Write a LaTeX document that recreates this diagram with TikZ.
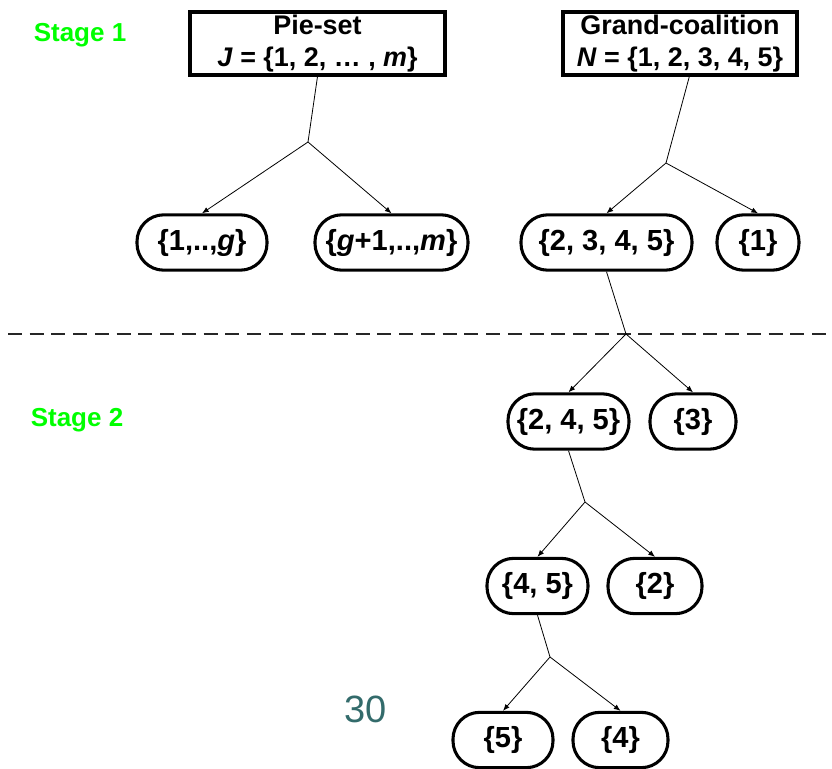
\documentclass[tikz,border=0pt]{standalone}
\usepackage{fontspec}
\setmainfont{Liberation Sans}
\usetikzlibrary{arrows.meta}
\definecolor{stagegreen}{HTML}{00FF00}
\definecolor{pagenum}{HTML}{336B6B}
\begin{document}
\begin{tikzpicture}[x=0.75pt,y=-0.75pt,
  titlebox/.style={draw,line width=2.3pt,rectangle,inner sep=0pt,
    minimum height=47.25pt,align=center,
    font=\fontsize{20.2}{23.5}\selectfont\bfseries},
  setbox/.style={draw,line width=2.3pt,rectangle,rounded corners=20pt,
    inner sep=0pt,minimum height=41.5pt,
    font=\fontsize{21.8}{24}\selectfont\bfseries},
  link/.style={line width=0.6pt},
  branch/.style={line width=0.6pt,-{Latex[length=5pt,width=4pt]}},
  stagelabel/.style={text=stagegreen,font=\fontsize{19.5}{23}\selectfont\bfseries}]
\useasboundingbox (0,0) rectangle (832,768);

% stage labels
\node[stagelabel] (s1) at (80,35) {Stage 1};
\node[stagelabel] (s2) at (77,420) {Stage 2};

% root boxes
\node[titlebox,minimum width=191.25pt] (pie) at (317.5,43.5)
  {Pie-set\\\textit{J} = \{1, 2, … , \textit{m}\}};
\node[titlebox,minimum width=175.5pt] (grand) at (680,43.5)
  {Grand-coalition\\\textit{N} = \{1, 2, 3, 4, 5\}};

% first split of the pie-set and of the grand coalition
\node[setbox,minimum width=97.5pt] (g1) at (202,242.5) {\{1,..,\textit{g}\}};
\node[setbox,minimum width=114.75pt] (g2) at (391.5,242.5) {\{\textit{g}+1,..,\textit{m}\}};
\node[setbox,minimum width=128.25pt] (n2345) at (606.5,242.5) {\{2, 3, 4, 5\}};
\node[setbox,minimum width=61.5pt] (n1) at (758,242.5) {\{1\}};

% later splits
\node[setbox,minimum width=90.75pt] (n245) at (568.5,421.5) {\{2, 4, 5\}};
\node[setbox,minimum width=64.5pt] (n3) at (693,421.5) {\{3\}};
\node[setbox,minimum width=75.75pt] (n45) at (537.5,586) {\{4, 5\}};
\node[setbox,minimum width=70.5pt] (n2) at (655,586) {\{2\}};
\node[setbox,minimum width=75pt] (n5) at (503,740) {\{5\}};
\node[setbox,minimum width=71.25pt] (n4) at (620.5,740) {\{4\}};

% branching points
\coordinate (j1) at (308,142);
\coordinate (j2) at (666,163);
\coordinate (j3) at (626,334);
\coordinate (j4) at (585,502);
\coordinate (j5) at (550,657);

% stage separator
\coordinate (dl) at (8,334);
\coordinate (dr) at (832,334);
\draw[line width=1.5pt,dash pattern=on 10.5pt off 5.8pt,black!85] (dl) -- (dr);

% tree connectors
\draw[link] (pie.south) -- (j1);
\draw[branch] (j1) -- (g1.north);
\draw[branch] (j1) -- (g2.north);

\draw[link] ([xshift=7pt]grand.south) -- (j2);
\draw[branch] (j2) -- (n2345.north);
\draw[branch] (j2) -- (n1.north);

\draw[link] (n2345.south) -- (j3);
\draw[branch] (j3) -- (n245.north);
\draw[branch] (j3) -- (n3.north);

\draw[link] (n245.south) -- (j4);
\draw[branch] (j4) -- (n45.north);
\draw[branch] (j4) -- (n2.north);

\draw[link] (n45.south) -- (j5);
\draw[branch] (j5) -- (n5.north);
\draw[branch] (j5) -- (n4.north);

% page number
\node[text=pagenum,font=\fontsize{28.5}{30}\selectfont] (pg) at (366,709) {30};
\end{tikzpicture}
\end{document}
